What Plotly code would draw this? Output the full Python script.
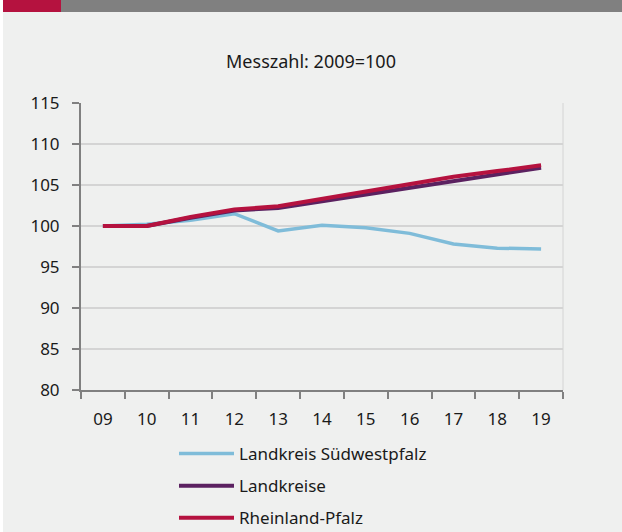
import plotly.graph_objects as go

years = ["09", "10", "11", "12", "13", "14", "15", "16", "17", "18", "19"]
suedwestpfalz = [100, 100.2, 100.7, 101.5, 99.4, 100.1, 99.8, 99.1, 97.8, 97.3, 97.2]
landkreise = [100, 100.0, 101.0, 101.9, 102.2, 103.0, 103.8, 104.7, 105.5, 106.3, 107.1]
rheinland_pfalz = [100, 100.0, 101.1, 102.0, 102.4, 103.3, 104.3, 105.2, 106.0, 106.7, 107.4]
y_ticks = [80, 85, 90, 95, 100, 105, 110, 115]

FONT = "Noto Sans"
BG = "#eff0ef"
TXT = "#1a1a1a"

fig = go.Figure()
fig.add_trace(go.Scatter(x=years, y=suedwestpfalz, mode="lines", name="Landkreis Südwestpfalz",
                         legendgroup="a", line=dict(color="#7fbcd9", width=3.5)))
fig.add_trace(go.Scatter(x=years, y=landkreise, mode="lines", name="Landkreise",
                         legendgroup="b", line=dict(color="#5b2160", width=4)))
fig.add_trace(go.Scatter(x=years, y=rheinland_pfalz, mode="lines", name="Rheinland-Pfalz",
                         legendgroup="c", line=dict(color="#b5123f", width=4)))

L, R, T, B = 81, 563, 103, 390
W, H = 622, 532
pw, ph = R - L, B - T

def px_x(p):
    return (p - L) / pw

def px_y(p):
    return (B - p) / ph

shapes = [
    dict(type="rect", xref="paper", yref="paper", x0=px_x(0), x1=px_x(3), y0=px_y(W), y1=px_y(0),
         fillcolor="white", line=dict(width=0), layer="below"),
    dict(type="rect", xref="paper", yref="paper", x0=px_x(3), x1=px_x(61), y0=px_y(12), y1=px_y(0),
         fillcolor="#b5123f", line=dict(width=0), layer="below"),
    dict(type="rect", xref="paper", yref="paper", x0=px_x(61), x1=px_x(W + 5), y0=px_y(12), y1=px_y(0),
         fillcolor="#808080", line=dict(width=0), layer="below"),
    dict(type="line", xref="paper", yref="paper", x0=1, x1=1, y0=0, y1=1,
         line=dict(color="#d4d4d4", width=1), layer="below"),
]

fig.update_layout(
    width=W, height=H,
    margin=dict(l=L, r=W - R, t=T, b=H - B, pad=0, autoexpand=False),
    paper_bgcolor=BG, plot_bgcolor=BG,
    font=dict(family=FONT, size=17, color=TXT),
    title=dict(text="Messzahl: 2009=100", x=0.5, xanchor="center", y=1 - 62 / H, yanchor="middle",
               font=dict(family=FONT, size=18, color=TXT)),
    showlegend=True,
    legend=dict(x=px_x(174), y=px_y(436), xanchor="left", yanchor="top", orientation="v",
                bgcolor="rgba(0,0,0,0)", font=dict(family=FONT, size=17, color=TXT),
                tracegroupgap=7, itemwidth=55),
    shapes=shapes,
)
fig.update_xaxes(type="category", tickson="boundaries", ticks="outside", ticklen=7,
                 tickcolor="#808080", tickwidth=2, showline=True, linecolor="#808080", linewidth=2,
                 showgrid=False, zeroline=False, range=[-0.5, 10.5], ticklabelstandoff=13,
                 tickfont=dict(family=FONT, size=17, color=TXT))
fig.update_yaxes(range=[80, 115], tickvals=y_ticks, ticks="outside", ticklen=7,
                 tickcolor="#808080", tickwidth=2, showline=True, linecolor="#808080", linewidth=2,
                 showgrid=True, gridcolor="#d4d4d4", gridwidth=1.5, zeroline=False,
                 ticklabelstandoff=9, tickfont=dict(family=FONT, size=17, color=TXT))

fig.write_html("out.html", config={"displayModeBar": False},
               post_script="document.body.style.margin='0';document.body.style.padding='0';")
